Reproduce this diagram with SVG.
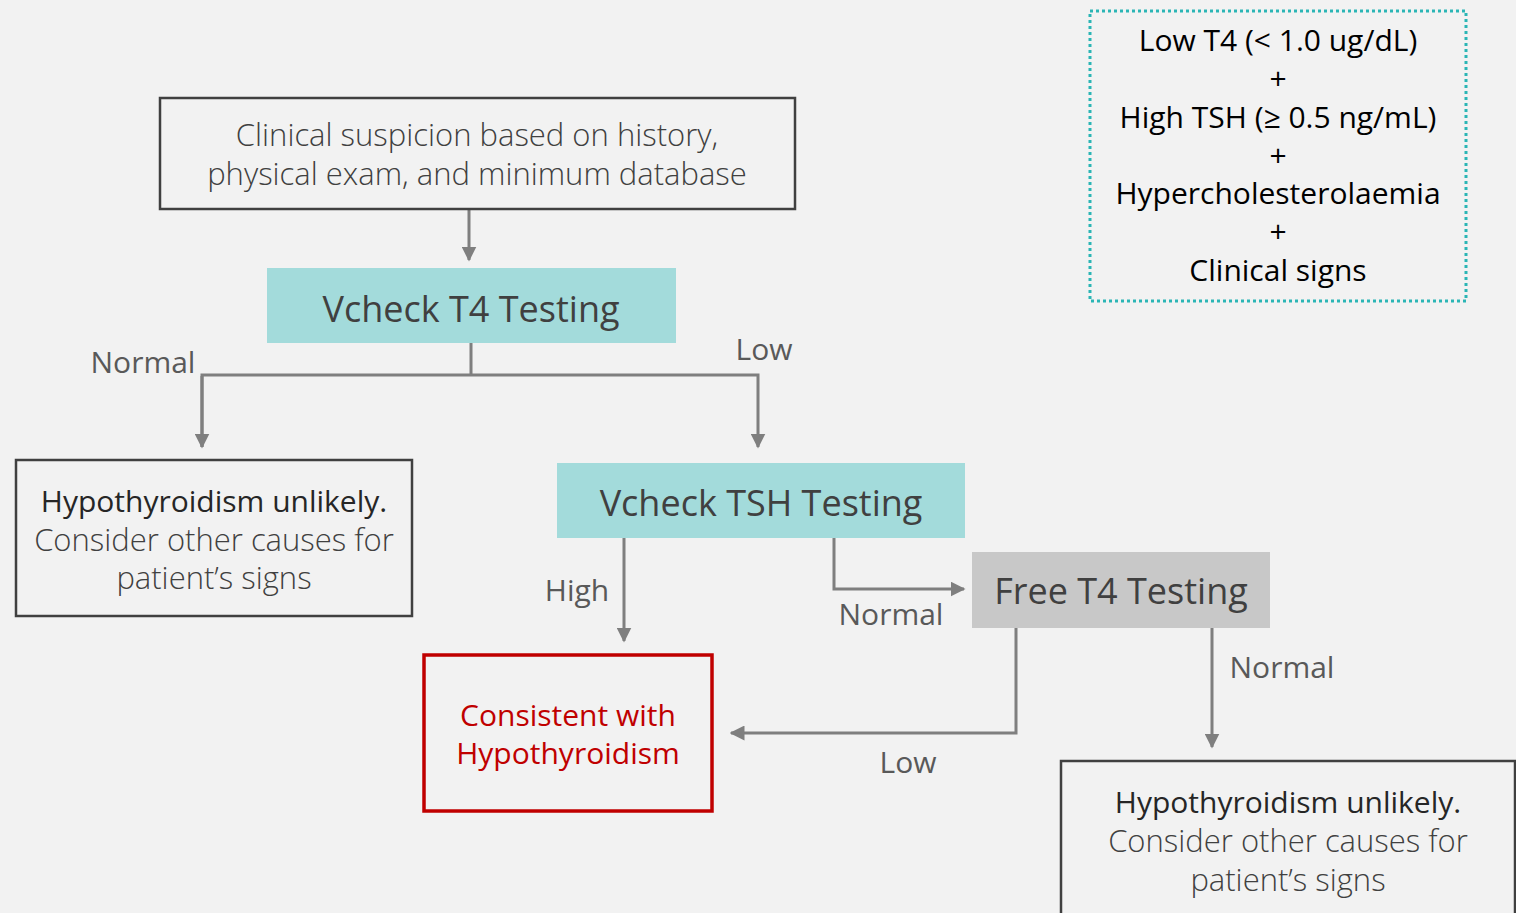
<svg xmlns="http://www.w3.org/2000/svg" width="1516" height="913" viewBox="0 0 1516 913">
<defs>
<marker id="ah" viewBox="0 0 10 10" refX="9" refY="5" markerWidth="5" markerHeight="5" orient="auto" markerUnits="strokeWidth">
<path d="M0,0 L10,5 L0,10 z" fill="#7f7f7f"/>
</marker>
<style>
text{font-family:"Open Sans","Noto Sans","Liberation Sans",sans-serif;text-anchor:middle}
.box{fill:none;stroke:#404040;stroke-width:2.5}
.teal{fill:#a3dbdb}
.grey{fill:#c8c8c8}
.ttl{font-size:36px;fill:#404040}
.lt{font-size:31px;fill:#404040;font-weight:300}
.dk{font-size:30px;fill:#262626}
.lbl{font-size:30px;fill:#595959}
.red{font-size:30px;fill:#c00000}
.crit{font-size:30px;fill:#000}
.conn{fill:none;stroke:#7f7f7f;stroke-width:3}
</style>
</defs>
<rect width="1516" height="913" fill="#f2f2f2"/>
<g id="connectors">
<line class="conn" x1="469" y1="210" x2="469" y2="260" marker-end="url(#ah)"/>
<polyline class="conn" points="471,343 471,375"/>
<polyline class="conn" points="202,447 202,375 758,375 758,447" marker-end="url(#ah)"/>
<line class="conn" x1="202" y1="376" x2="202" y2="447" marker-end="url(#ah)"/>
<line class="conn" x1="624" y1="538" x2="624" y2="641" marker-end="url(#ah)"/>
<polyline class="conn" points="834,535 834,589 964,589" marker-end="url(#ah)"/>
<polyline class="conn" points="1016,628 1016,733 731,733" marker-end="url(#ah)"/>
<line class="conn" x1="1212" y1="626" x2="1212" y2="747" marker-end="url(#ah)"/>
<text class="lbl" x="143" y="373">Normal</text>
<text class="lbl" x="764" y="360">Low</text>
<text class="lbl" x="577" y="601">High</text>
<text class="lbl" x="891" y="625">Normal</text>
<text class="lbl" x="908" y="773">Low</text>
<text class="lbl" x="1282" y="678">Normal</text>
</g>
<g id="suspicion">
<rect class="box" x="160" y="98" width="635" height="111"/>
<text class="lt" x="477" y="146">Clinical suspicion based on history,</text>
<text class="lt" x="477" y="185">physical exam, and minimum database</text>
</g>
<g id="t4">
<rect class="teal" x="267" y="268" width="409" height="75"/>
<text class="ttl" x="471" y="322">Vcheck T4 Testing</text>
</g>
<g id="unlikely1">
<rect class="box" x="16" y="460" width="396" height="156"/>
<text class="dk" x="214" y="512">Hypothyroidism unlikely.</text>
<text class="lt" x="214" y="551">Consider other causes for</text>
<text class="lt" x="214" y="589">patient’s signs</text>
</g>
<g id="tsh">
<rect class="teal" x="557" y="463" width="408" height="75"/>
<text class="ttl" x="761" y="516">Vcheck TSH Testing</text>
</g>
<g id="freet4">
<rect class="grey" x="972" y="552" width="298" height="76"/>
<text class="ttl" x="1121" y="604">Free T4 Testing</text>
</g>
<g id="consistent">
<rect fill="none" stroke="#c00000" stroke-width="3.5" x="424" y="655" width="288" height="156"/>
<text class="red" x="568" y="726">Consistent with</text>
<text class="red" x="568" y="764">Hypothyroidism</text>
</g>
<g id="unlikely2">
<rect class="box" x="1061" y="761" width="454" height="160"/>
<text class="dk" x="1288" y="813">Hypothyroidism unlikely.</text>
<text class="lt" x="1288" y="852">Consider other causes for</text>
<text class="lt" x="1288" y="891">patient’s signs</text>
</g>
<g id="criteria">
<rect fill="none" stroke="#2bb5b5" stroke-width="3" stroke-dasharray="3,3" x="1090" y="11" width="376" height="290"/>
<text class="crit" x="1278" y="51">Low T4 (&lt; 1.0 ug/dL)</text>
<text class="crit" x="1278" y="89">+</text>
<text class="crit" x="1278" y="128">High TSH (≥ 0.5 ng/mL)</text>
<text class="crit" x="1278" y="166">+</text>
<text class="crit" x="1278" y="204">Hypercholesterolaemia</text>
<text class="crit" x="1278" y="242">+</text>
<text class="crit" x="1278" y="281">Clinical signs</text>
</g>
</svg>
